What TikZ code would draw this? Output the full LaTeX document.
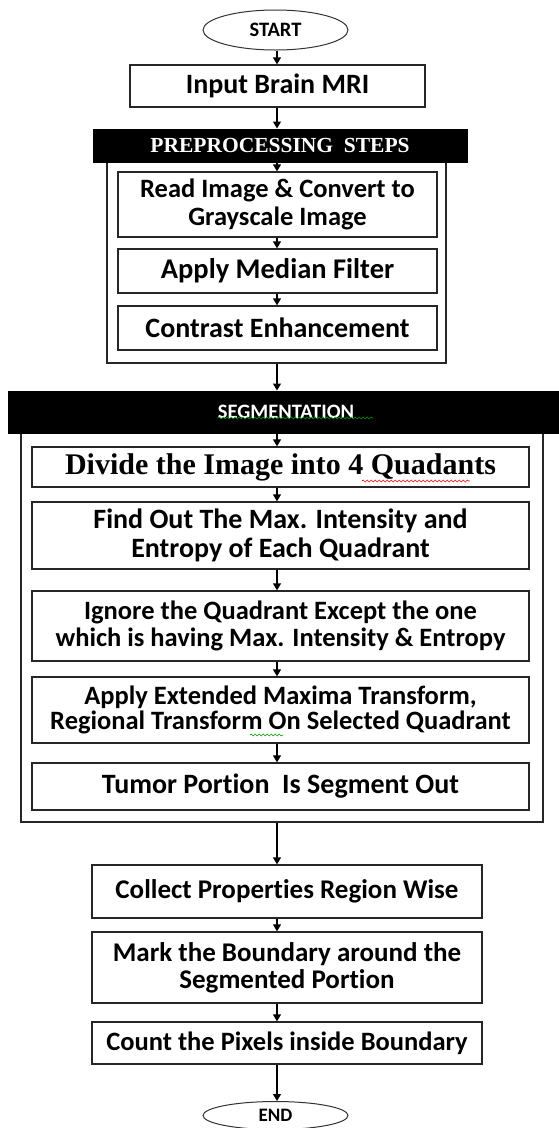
\documentclass[tikz,border=0pt]{standalone}
\usepackage{fontspec}
\setmainfont[Ligatures=NoCommon]{Carlito}
\newfontfamily\serifbold{Liberation Serif}
\usetikzlibrary{arrows.meta,decorations.pathmorphing,shapes.geometric}

\begin{document}
\begin{tikzpicture}[x=1pt,y=-1pt,
  box/.style={draw=black!85, line width=1.3pt, fill=white, inner sep=0pt, align=center},
  frm/.style={draw=black!85, line width=1.3pt, inner sep=0pt},
  hdr/.style={draw=black, fill=black, line width=1pt, inner sep=0pt, text=white, align=center},
  term/.style={ellipse, draw=black!80, line width=1pt, fill=white, inner sep=0pt, font=\bfseries\fontsize{20.5}{22}\selectfont},
  arr/.style={draw=black, line width=1.3pt, -{Triangle[length=7pt,width=8pt]}},
  squig/.style={decorate, decoration={snake, amplitude=1pt, segment length=4pt}, line width=0.6pt}
]
\useasboundingbox (0,0) rectangle (559,1128);
\coordinate (ax) at (277,0);

% top
\node[term, minimum width=145pt, minimum height=40pt] (start) at (275.5,30) {START};
\node[box, minimum width=295pt, minimum height=42pt, font=\bfseries\fontsize{28}{32}\selectfont] (input) at (277.5,86) {Input Brain MRI};

% preprocessing
\node[frm, minimum width=339pt, minimum height=201pt] (preframe) at (276.5,262.5) {};
\node[hdr, minimum width=374pt, minimum height=33pt, font=\serifbold\bfseries\fontsize{21.5}{22}\selectfont] (prehead) at (280,145.5) {PREPROCESSING\ \ STEPS};
\node[box, minimum width=319pt, minimum height=65pt, font=\bfseries\fontsize{26.5}{28}\selectfont] (read) at (277.5,204.5) {Read Image \& Convert to\\Grayscale Image};
\node[box, minimum width=319pt, minimum height=44pt, font=\bfseries\fontsize{28.5}{30}\selectfont] (median) at (277.5,271) {Apply Median Filter};
\node[box, minimum width=319pt, minimum height=44pt, font=\bfseries\fontsize{28}{30}\selectfont] (contrast) at (277.5,328) {Contrast Enhancement};

% segmentation
\node[frm, minimum width=522pt, minimum height=389pt] (segframe) at (282,627.5) {};
\node[hdr, minimum width=556pt, minimum height=42pt, font=\bfseries\fontsize{20.5}{22}\selectfont] (seghead) at (286,412) {SEGMENTATION};
\node[box, minimum width=497pt, minimum height=40pt, font=\serifbold\bfseries\fontsize{30}{32}\selectfont] (divide) at (280.5,467) {Divide the Image into 4 Quadants};
\node[box, minimum width=497pt, minimum height=67pt, font=\bfseries\fontsize{28}{29}\selectfont] (find) at (280.5,535.5) {Find Out The Max. Intensity and\\Entropy of Each Quadrant};
\node[box, minimum width=497pt, minimum height=70pt, font=\bfseries\fontsize{26.5}{27}\selectfont] (ignore) at (280.5,626) {Ignore the Quadrant Except the one\\which is having Max. Intensity \& Entropy};
\node[box, minimum width=497pt, minimum height=66pt, font=\bfseries\fontsize{26.5}{25.5}\selectfont] (apply) at (280.5,710) {Apply Extended Maxima Transform,\\Regional Transform On Selected Quadrant};
\node[box, minimum width=497pt, minimum height=47pt, font=\bfseries\fontsize{28}{30}\selectfont] (tumor) at (280.5,786.5) {Tumor Portion\ \ Is Segment Out};

% post
\node[box, minimum width=390pt, minimum height=53pt, font=\bfseries\fontsize{27}{28}\selectfont] (collect) at (287,891.5) {Collect Properties Region Wise};
\node[box, minimum width=390pt, minimum height=71pt, font=\bfseries\fontsize{27}{27}\selectfont] (mark) at (287,967.5) {Mark the Boundary around the\\Segmented Portion};
\node[box, minimum width=390pt, minimum height=42pt, font=\bfseries\fontsize{26.5}{28}\selectfont] (count) at (287,1043) {Count the Pixels inside Boundary};
\node[term, minimum width=145pt, minimum height=28pt, font=\bfseries\fontsize{19}{20}\selectfont] (end) at (275.5,1115.5) {END};

% connectors
\draw[arr] (start.south -| ax) -- (input.north -| ax);
\draw[arr] (input.south -| ax) -- (prehead.north -| ax);
\draw[arr] (prehead.south -| ax) -- (read.north -| ax);
\draw[arr] (read.south -| ax) -- (median.north -| ax);
\draw[arr] (median.south -| ax) -- (contrast.north -| ax);
\draw[arr] (preframe.south -| ax) -- (seghead.north -| ax);
\draw[arr] (seghead.south -| ax) -- (divide.north -| ax);
\draw[arr] (divide.south -| ax) -- (find.north -| ax);
\draw[arr] (find.south -| ax) -- (ignore.north -| ax);
\draw[arr] (ignore.south -| ax) -- (apply.north -| ax);
\draw[arr] (apply.south -| ax) -- (tumor.north -| ax);
\draw[arr] (segframe.south -| ax) -- (collect.north -| ax);
\draw[arr] (collect.south -| ax) -- (mark.north -| ax);
\draw[arr] (mark.south -| ax) -- (count.north -| ax);
\draw[arr] (count.south -| ax) -- (end.north -| ax);

% spell-check squiggles
\draw[squig, red] (362,481) -- (470,481);
\draw[squig, green!60!black] (218,418) -- (373,418);
\draw[squig, green!60!black] (250,735) -- (283,735);
\end{tikzpicture}
\end{document}
